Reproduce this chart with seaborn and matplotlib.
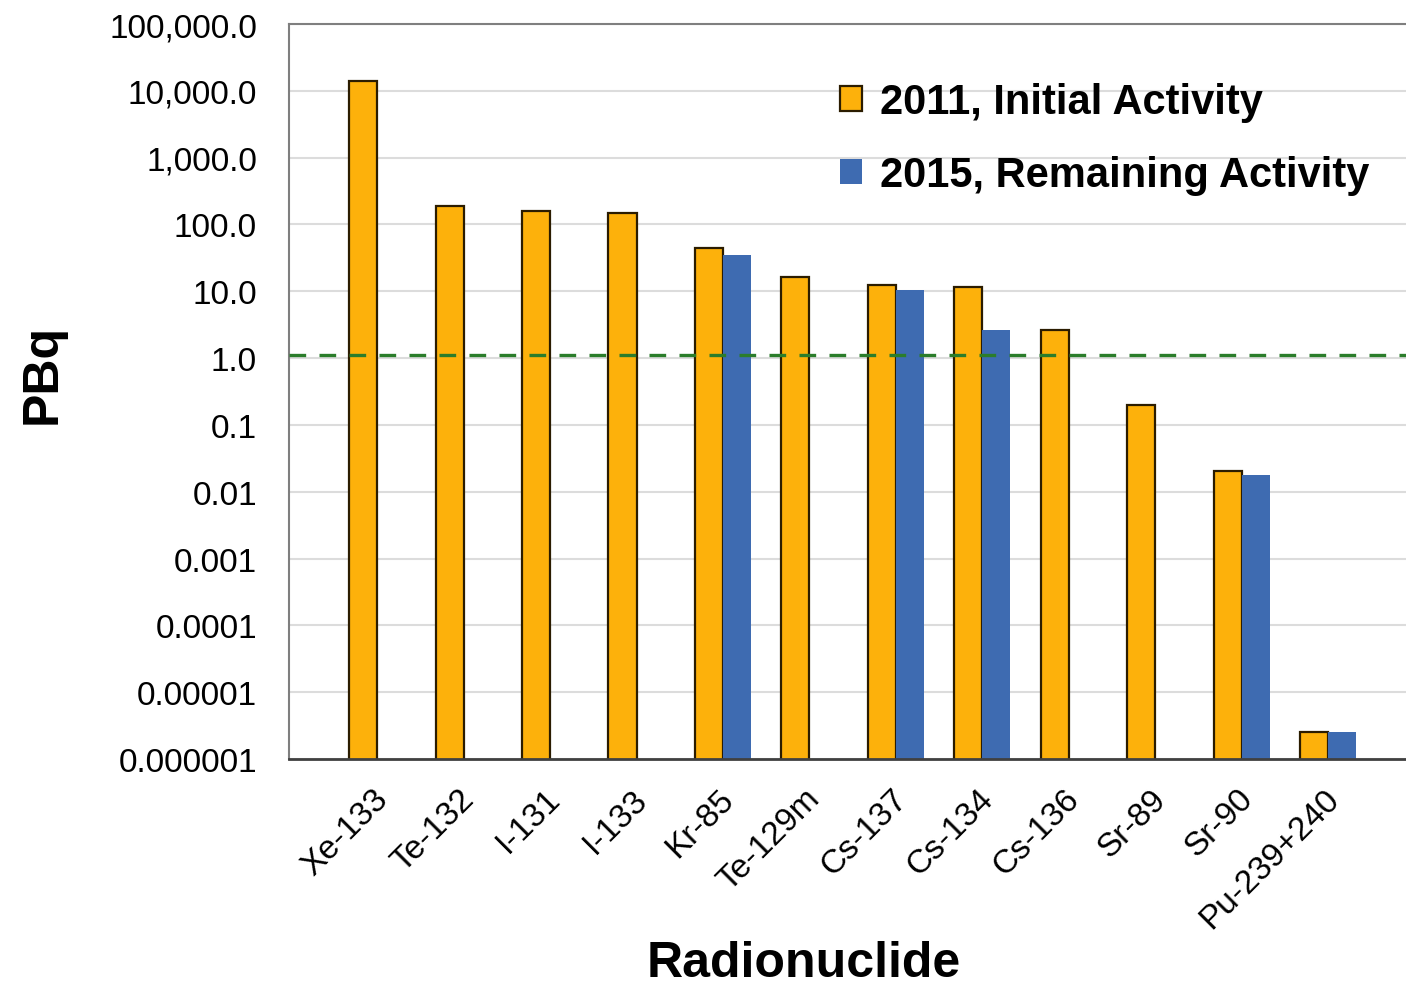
import numpy as np
import pandas as pd
import seaborn as sns
import matplotlib.pyplot as plt
from matplotlib.patches import Patch
from matplotlib.ticker import FixedLocator, FixedFormatter, NullLocator
from matplotlib.transforms import ScaledTranslation

# data (PBq, log scale)
nuclides = ["Xe-133", "Te-132", "I-131", "I-133", "Kr-85", "Te-129m",
            "Cs-137", "Cs-134", "Cs-136", "Sr-89", "Sr-90", "Pu-239+240"]
initial_2011 = [14000, 190, 160, 147, 45, 16.3, 12.4, 11.7, 2.65, 0.2, 0.0204, 2.55e-6]
remaining_2015 = [np.nan, np.nan, np.nan, np.nan, 35, np.nan, 10.6, 2.65, np.nan, np.nan, 0.0179, 2.55e-6]
series = ["2011, Initial Activity", "2015, Remaining Activity"]
y_ticks = [1e-6, 1e-5, 1e-4, 1e-3, 1e-2, 1e-1, 1, 10, 100, 1e3, 1e4, 1e5]
y_tick_labels = ["0.000001", "0.00001", "0.0001", "0.001", "0.01", "0.1",
                 "1.0", "10.0", "100.0", "1,000.0", "10,000.0", "100,000.0"]
reference_level = 1.13

orange = "#FDB10B"
blue = "#3E6BB1"
edge = "#2b1c00"

df = pd.DataFrame({
    "nuclide": nuclides * 2,
    "series": [series[0]] * len(nuclides) + [series[1]] * len(nuclides),
    "pbq": initial_2011 + remaining_2015,
}).dropna()

sns.set_style("white")
plt.rcParams["font.family"] = ["Liberation Sans", "DejaVu Sans"]
plt.rcParams["text.color"] = "black"
plt.rcParams["axes.labelcolor"] = "black"
plt.rcParams["xtick.color"] = "black"
plt.rcParams["ytick.color"] = "black"

fig = plt.figure(figsize=(14.06, 9.87), dpi=100)
ax = fig.add_axes([289 / 1406, 1 - 760 / 987, (1406 - 289) / 1406, (760 - 25) / 987])

sns.barplot(data=df, x="nuclide", y="pbq", hue="series", order=nuclides,
            hue_order=series, palette=[orange, blue], width=0.65,
            saturation=1, errorbar=None, legend=False, ax=ax)
ax.set_yscale("log")

for bar in ax.containers[0]:
    bar.set_edgecolor(edge)
    bar.set_linewidth(1.6)
for bar in ax.containers[1]:
    bar.set_linewidth(0)

ax.axhline(reference_level, color="#2b7d2b", ls=(0, (5, 4)), lw=2.4, zorder=4)

ax.set_ylim(1e-6, 1e5)
ax.set_xlim(-1.02, 11.9)
ax.yaxis.set_major_locator(FixedLocator(y_ticks))
ax.yaxis.set_major_formatter(FixedFormatter(y_tick_labels))
ax.yaxis.set_minor_locator(NullLocator())
ax.yaxis.grid(True, color="#dcdcdc", lw=1.5)
ax.set_axisbelow(True)

ax.tick_params(axis="y", length=0, pad=23, labelsize=24)
ax.tick_params(axis="x", length=0, pad=25, labelsize=24)
shift = ScaledTranslation(6 / 100, 0, fig.dpi_scale_trans)
for lab in ax.get_xticklabels():
    lab.set_rotation(45)
    lab.set_ha("right")
    lab.set_va("center")
    lab.set_rotation_mode("anchor")
    lab.set_transform(lab.get_transform() + shift)

ax.set_xlabel("Radionuclide", fontsize=36, fontweight="bold")
ax.xaxis.set_label_coords(0.461, -0.246)
ax.set_ylabel("PBq", fontsize=36, fontweight="bold")
ax.yaxis.set_label_coords(-0.1996, 0.525)

ax.spines["right"].set_visible(False)
for side in ["left", "top"]:
    ax.spines[side].set_color("#7f7f7f")
    ax.spines[side].set_linewidth(1.5)
ax.spines["bottom"].set_color("#404040")
ax.spines["bottom"].set_linewidth(2)

handles = [Patch(facecolor=orange, edgecolor=edge, linewidth=1.6),
           Patch(facecolor=blue, linewidth=0)]
fig.legend(handles, series, loc="upper left", bbox_to_anchor=(840 / 1406, 1 - 83 / 987),
           frameon=False, prop={"size": 30, "weight": "bold"}, borderpad=0,
           borderaxespad=0, handlelength=0.53, handleheight=0.53,
           handletextpad=0.43, labelspacing=0.8)

fig.savefig("out.png", dpi=100)
